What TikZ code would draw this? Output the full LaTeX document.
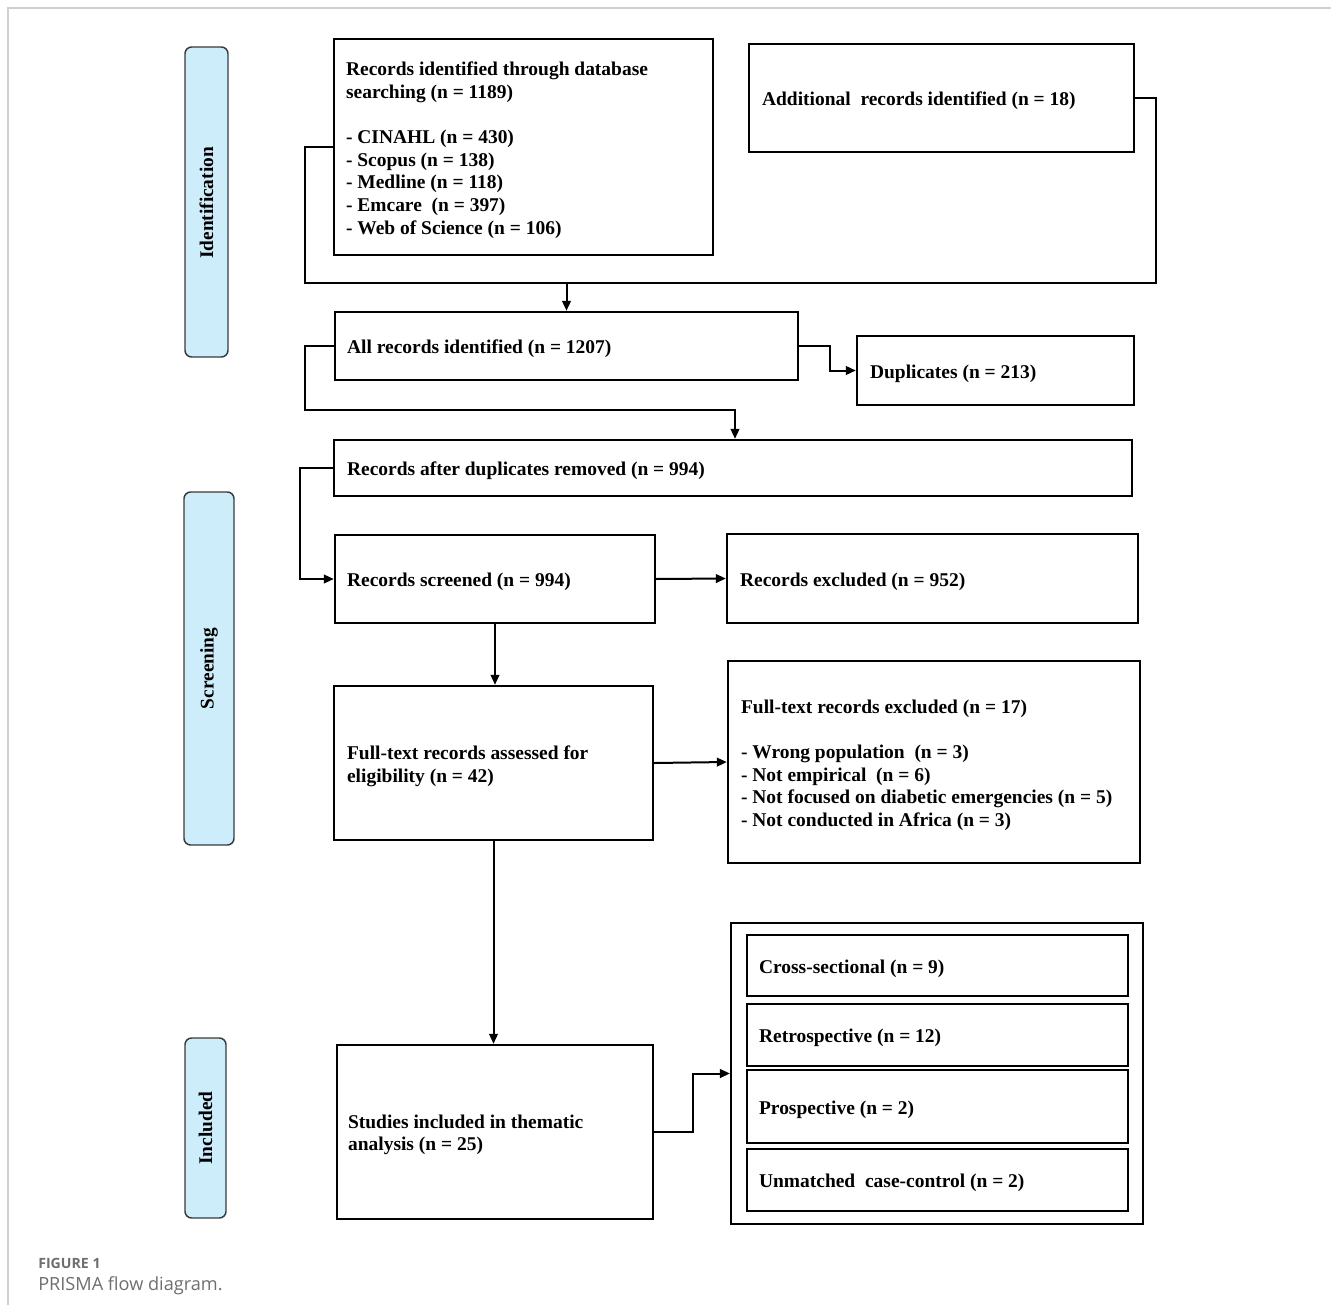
\documentclass[tikz,border=0pt]{standalone}
\usepackage{fontspec}
\setmainfont{Liberation Serif}
\newfontfamily\capfont{Open Sans}
\usetikzlibrary{arrows.meta,fit,calc}
\definecolor{phasefill}{HTML}{CDEDFB}
\definecolor{phasedraw}{HTML}{3A3A3A}
\definecolor{framegray}{HTML}{D0D0D0}
\definecolor{capgray}{HTML}{6E6E6E}
\begin{document}
\begin{tikzpicture}[x=0.75pt,y=-0.75pt,
  box/.style={draw=black, line width=1.8pt, inner sep=0pt, fill=white},
  phase/.style={draw=phasedraw, line width=1.1pt, fill=phasefill, rounded corners=5pt, inner sep=0pt},
  txt/.style={font=\bfseries\fontsize{14.6}{17}\selectfont, align=left, anchor=west, inner sep=0pt},
  phtxt/.style={font=\bfseries\fontsize{14.5}{17}\selectfont, rotate=90, inner sep=0pt},
  conn/.style={line width=1.5pt},
  arr/.style={conn, -{Triangle[length=7.5pt,width=6.5pt]}}
]
\useasboundingbox (0,0) rectangle (1331,1305);
% frame
\draw[framegray, line width=1.1pt] (1331,8) -- (8,8) -- (8,1305);

% phase boxes
\node[phase, fit={(185,47) (228,357)}] (pid) {};
\node[phtxt] at ($(pid.center)+(0,1)$) {Identification};
\node[phase, fit={(184,492) (234,845)}] (pscr) {};
\node[phtxt] at (pscr.center) {Screening};
\node[phase, fit={(185,1038) (226,1218)}] (pinc) {};
\node[phtxt] at (pinc.center) {Included};

% boxes
\node[box, fit={(334,39) (713,255)}] (b1) {};
\node[txt] at ($(b1.west)+(13,3)$) {Records identified through database\\searching (n = 1189)\\[17pt]- CINAHL (n = 430)\\- Scopus (n = 138)\\- Medline (n = 118)\\- Emcare\ \ (n = 397)\\- Web of Science (n = 106)};

\node[box, fit={(749,44) (1134,152)}] (b2) {};
\node[txt] at ($(b2.west)+(14,3)$) {Additional\ \ records identified (n = 18)};

\node[box, fit={(335,312) (798,380)}] (b3) {};
\node[txt] at ($(b3.west)+(13,3)$) {All records identified (n = 1207)};

\node[box, fit={(857,336) (1134,405)}] (dup) {};
\node[txt] at ($(dup.west)+(14,3)$) {Duplicates (n = 213)};

\node[box, fit={(334,440) (1132,496)}] (b4) {};
\node[txt] at ($(b4.west)+(14,3)$) {Records after duplicates removed (n = 994)};

\node[box, fit={(335,535) (655,623)}] (b5) {};
\node[txt] at ($(b5.west)+(13,3)$) {Records screened (n = 994)};

\node[box, fit={(727,534) (1138,623)}] (excl) {};
\node[txt] at ($(excl.west)+(14,3)$) {Records excluded (n = 952)};

\node[box, fit={(334,686) (653,840)}] (b6) {};
\node[txt] at ($(b6.west)+(14,3)$) {Full-text records assessed for\\eligibility (n = 42)};

\node[box, fit={(728,661) (1140,863)}] (ftex) {};
\node[txt] at ($(ftex.west)+(14,3)$) {Full-text records excluded (n = 17)\\[17pt]- Wrong population\ \ (n = 3)\\- Not empirical\ \ (n = 6)\\- Not focused on diabetic emergencies (n = 5)\\- Not conducted in Africa (n = 3)};

\node[box, fit={(337,1045) (653,1219)}] (b7) {};
\node[txt] at ($(b7.west)+(12,3)$) {Studies included in thematic\\analysis (n = 25)};

\node[box, line width=1.6pt, fit={(731,923) (1143,1224)}] (grp) {};
\node[box, fit={(747,935) (1128,996)}] (g1) {};
\node[txt] at ($(g1.west)+(13,3)$) {Cross-sectional (n = 9)};
\node[box, fit={(747,1004) (1128,1066)}] (g2) {};
\node[txt] at ($(g2.west)+(13,3)$) {Retrospective (n = 12)};
\node[box, fit={(747,1070) (1128,1143)}] (g3) {};
\node[txt] at ($(g3.west)+(13,3)$) {Prospective (n = 2)};
\node[box, fit={(747,1149) (1128,1211)}] (g4) {};
\node[txt] at ($(g4.west)+(13,3)$) {Unmatched\ \ case-control (n = 2)};

% connectors
\coordinate (m1) at (566.5,283);
\draw[conn] (b1.west) -| (305,283) -- (1156,283) |- (b2.east);
\draw[arr] (m1) -- (b3.north);
\draw[arr] (b3.east) -- ++(31,0) |- (dup.west);
\coordinate (c2) at (735,410);
\draw[arr] (b3.west) -- ++(-29,0) |- (c2) -- (c2 |- b4.north);
\draw[arr] (b4.west) -- ++(-33,0) |- (b5.west);
\draw[arr] (b5.east) -- (excl.west);
\draw[arr] (b5.south) -- (b5.south |- b6.north);
\draw[arr] (b6.east) -- (ftex.west);
\draw[arr] (b6.south) -- (b6.south |- b7.north);
\draw[arr] (b7.east) -- ++(39,0) |- (grp.west);

% caption
\node[anchor=west, inner sep=0pt, text=capgray, font=\capfont\bfseries\fontsize{10.6}{12}\selectfont] (cap1) at (38,1263) {FIGURE 1};
\node[anchor=west, inner sep=0pt, text=capgray, font=\capfont\fontsize{13.6}{16}\selectfont] (cap2) at (38,1286) {PRISMA flow diagram.};
\end{tikzpicture}
\end{document}
